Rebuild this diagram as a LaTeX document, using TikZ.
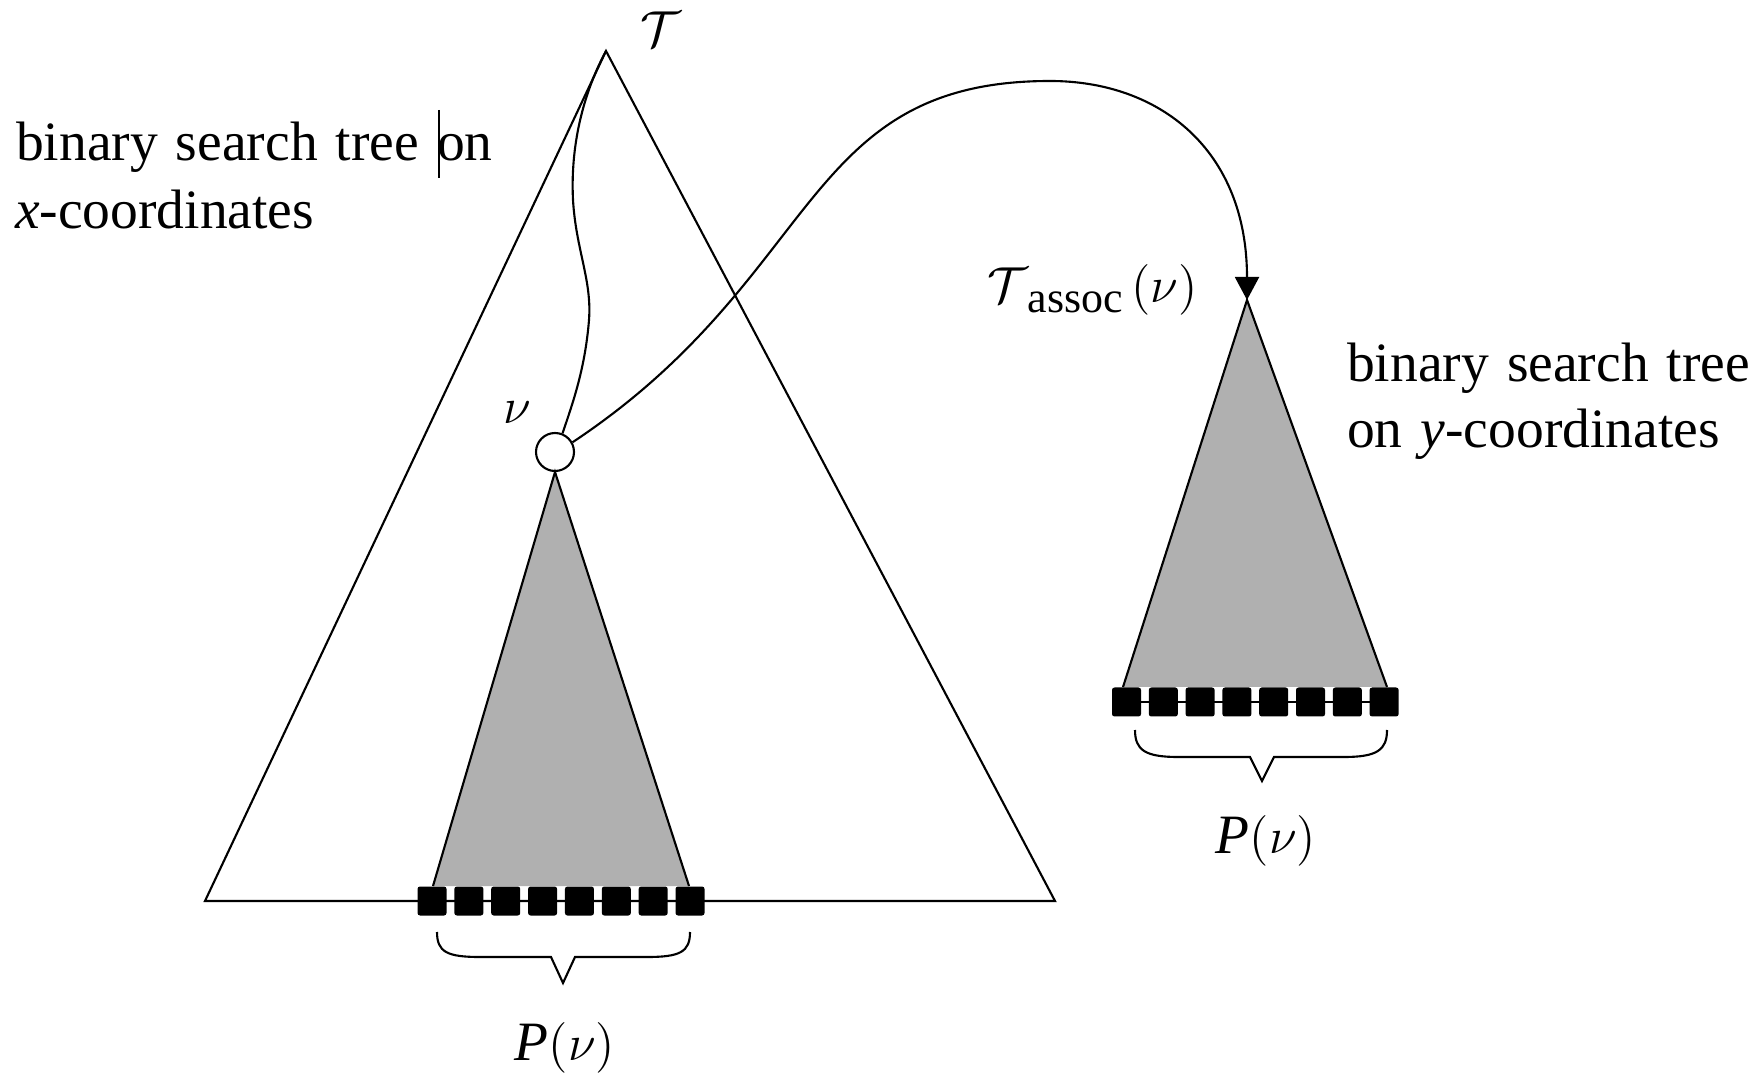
\documentclass[tikz,border=0pt]{standalone}
\usepackage{amsmath}
\usepackage{fontspec}
\setmainfont{Liberation Serif}[WordSpace=1.3]
\usetikzlibrary{arrows.meta}
\definecolor{treegray}{RGB}{176,176,176}
\begin{document}
\begin{tikzpicture}[x=0.1mm,y=-0.1mm,line width=0.6pt,
  lbl/.style={inner sep=0pt,font=\fontsize{15.8pt}{18pt}\selectfont},
  leaf/.style={fill=black,rounded corners=0.25mm,minimum size=2.9mm,inner sep=0pt},
  vnode/.style={circle,draw,fill=white,minimum size=3.8mm,inner sep=0pt},
  subtree/.style={fill=treegray},
  bracepath/.style={line width=0.6pt},
  link/.style={line width=0.6pt}]
\useasboundingbox (0,0) rectangle (1760,1074);

% big tree on x-coordinates
\coordinate (top) at (606,51);
\coordinate (bl) at (205,901);
\coordinate (br) at (1055,901);
\draw (top) -- (bl) -- (br) -- cycle;

% node v
\node[vnode] (v) at (555,452) {};

% subtree of v
\fill[subtree] (v.south) -- (433,886) -- (689,886) -- cycle;
\draw (433,886) -- (v.south) -- (689,886);
\foreach \i in {0,...,7} \node[leaf] (a\i) at ({432+\i*36.86},901) {};

% associated structure
\coordinate (atop) at (1247,300);
\fill[subtree] (atop) -- (1123,687) -- (1387,687) -- cycle;
\draw (1123,687) -- (atop) -- (1387,687);
\draw (1126,702) -- (1384,702);
\foreach \i in {0,...,7} \node[leaf] (b\i) at ({1126.5+\i*36.8},702) {};

% braces
\draw[bracepath] (437,932) .. controls (437,952) and (447,957) .. (480,957) -- (551,957) -- (563,983) -- (575,957) -- (647,957) .. controls (680,957) and (690,952) .. (690,932);
\draw[bracepath] (1135,730) .. controls (1135,750) and (1145,757) .. (1178,757) -- (1250,757) -- (1262,781) -- (1274,757) -- (1344,757) .. controls (1377,757) and (1387,750) .. (1387,730);

% path from root to v
\draw[link] (top) .. controls (586,88) and (570,140) .. (573,200)
  .. controls (576,250) and (592,280) .. (589,320)
  .. controls (585,370) and (572,405) .. (v.68);

% pointer from v to associated structure
\draw[link,-{Triangle[width=2.4mm,length=2.3mm]}] (v.29) .. controls (823,276) and (800,81) .. (1050,81)
  .. controls (1160,81) and (1247,150) .. (atop);

% labels
\node[lbl] (Tlab) at (661,29) {$\mathcal{T}$};
\node[lbl] (vlab) at (517,413) {$\nu$};
\node[lbl,anchor=base west] (lt1) at (15,161) {binary search tree on};
\node[lbl,anchor=base west] (lt2) at (14,229) {\textit{x}-coordinates};
\draw[line width=0.5pt] (439,110) -- (439,178);
\node[lbl,anchor=base west] (rt1) at (1346,382) {binary search tree};
\node[lbl,anchor=base west] (rt2) at (1346,448) {on \textit{y}-coordinates};
\node[lbl,anchor=base west] (alab) at (986,303) {$\mathcal{T}$\raisebox{-1mm}{\fontsize{12.5pt}{14pt}\selectfont assoc}$\,(\nu)$};
\node[lbl,anchor=base] (pl) at (565,1060) {\textit{P}$(\nu)$};
\node[lbl,anchor=base] (pr) at (1266,853) {\textit{P}$(\nu)$};
\end{tikzpicture}
\end{document}
